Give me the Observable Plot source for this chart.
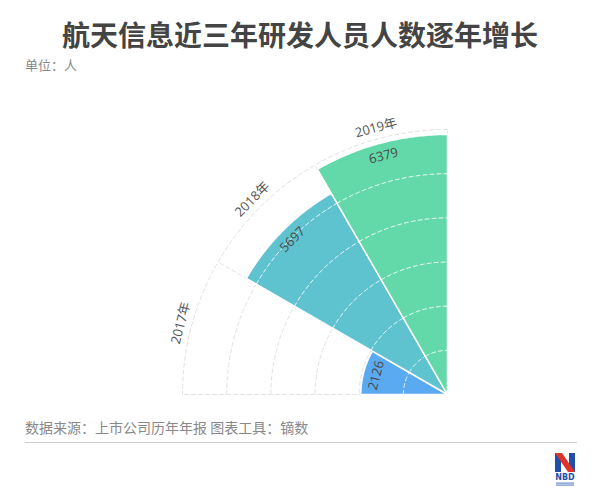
<!DOCTYPE html>
<html><head><meta charset="utf-8">
<script src="https://cdn.jsdelivr.net/npm/d3@7"></script>
<script src="https://cdn.jsdelivr.net/npm/@observablehq/plot@0.6"></script>
<style>
body{margin:0;background:#fff;width:600px;height:500px;position:relative;overflow:hidden;font-family:"Noto Sans CJK SC","Noto Sans",sans-serif;}
#title{position:absolute;left:0;width:600px;top:14px;text-align:center;font-size:28px;font-weight:bold;color:#444;line-height:40px;}
#unit{position:absolute;left:25px;top:55px;font-size:13px;color:#888;line-height:20px;}
#chart{position:absolute;left:0;top:80px;}
#source{position:absolute;left:25px;top:417px;font-size:14px;color:#888;line-height:20px;}
#rule{position:absolute;left:25px;top:442px;width:552px;height:1px;background:#d0d0d0;}
#logo{position:absolute;left:555px;top:453px;}
</style></head><body>
<div id="title">航天信息近三年研发人员人数逐年增长</div>
<div id="unit">单位：人</div>
<div id="chart"></div>
<div id="source">数据来源：上市公司历年年报 图表工具：镝数</div>
<div id="rule"></div>
<div id="logo"><svg width="22" height="36" viewBox="0 0 22 36">
<polygon points="0,0 6,0 6,19 0,19" fill="#1f4fa8"/>
<polygon points="14,0 20,0 20,19 14,19" fill="#1f4fa8"/>
<polygon points="0,0 7,0 20,19 13,19" fill="#e0342b"/>
<text x="10" y="27" text-anchor="middle" font-family="DejaVu Sans" font-weight="bold" font-size="8" fill="#1f4fa8">NBD</text>
<rect x="1" y="29.5" width="18" height="1.2" fill="#6a8cc8"/>
<rect x="1" y="31.5" width="18" height="1.2" fill="#6a8cc8"/>
</svg></div>
<script>
const years = ["2017年", "2018年", "2019年"];
const values = [2126, 5697, 6379];
const colors = ["#5aaaf2", "#5ec3cf", "#63d9aa"];
const rMax = 6500;
const ringCount = 6;

const outerPx = 265, cx = 447, cy = 314;
const unitPerPx = rMax / outerPx;
const rad = a => a * Math.PI / 180;
const pt = (r, a) => [r * Math.cos(rad(a)), r * Math.sin(rad(a))];
function arc(r, a1, a2, n = 60) {
  const out = [];
  for (let s = 0; s <= n; s++) out.push(pt(r, a1 + (a2 - a1) * s / n));
  return out;
}
const span = 90 / years.length;
const angles = years.map((y, i) => [180 - span * i, 180 - span * (i + 1)]);

// gray grid
const grid = [];
for (let j = 1; j <= ringCount; j++) arc(j * rMax / ringCount, 90, 180).forEach(p => grid.push({x: p[0], y: p[1], id: "r" + j}));
[180, 150, 120, 90].forEach(a => { grid.push({x: 0, y: 0, id: "a" + a}); const p = pt(rMax, a); grid.push({x: p[0], y: p[1], id: "a" + a}); });

// sectors
const sectors = [];
years.forEach((y, i) => {
  const [a1, a2] = angles[i];
  sectors.push({x: 0, y: 0, year: y});
  arc(values[i], a1, a2).forEach(p => sectors.push({x: p[0], y: p[1], year: y}));
  sectors.push({x: 0, y: 0, year: y});
});

// white rings inside sectors
const inner = [];
years.forEach((y, i) => {
  const [a1, a2] = angles[i];
  for (let j = 1; j <= ringCount; j++) {
    const r = j * rMax / ringCount;
    if (r < values[i] - 1.5 * unitPerPx) arc(r, a1, a2, 20).forEach(p => inner.push({x: p[0], y: p[1], id: y + j}));
  }
});

// labels
const catLabels = years.map((y, i) => {
  const am = (angles[i][0] + angles[i][1]) / 2;
  const p = pt(rMax + 11 * unitPerPx, am);
  return {x: p[0], y: p[1], text: y, rot: (180 - am) - 90};
});
const valLabels = years.map((y, i) => {
  const am = (angles[i][0] + angles[i][1]) / 2;
  const p = pt(values[i] - 13 * unitPerPx, am);
  return {x: p[0], y: p[1], text: String(values[i]), rot: (180 - am) - 90};
});

const plot = Plot.plot({
  width: 600, height: 330, margin: 0,
  style: {fontFamily: "'Open Sans','Noto Sans CJK SC',sans-serif", background: "transparent"},
  x: {domain: [-rMax, 0], range: [cx - outerPx, cx], axis: null},
  y: {domain: [0, rMax], range: [cy, cy - outerPx], axis: null},
  color: {domain: years, range: colors},
  marks: [
    Plot.line(grid, {x: "x", y: "y", z: "id", stroke: "#e2e2e2", strokeWidth: 1, strokeDasharray: "4,3"}),
    Plot.line(sectors, {x: "x", y: "y", z: "year", fill: "year", stroke: "#fff", strokeWidth: 1.5, strokeLinejoin: "round"}),
    Plot.line(inner, {x: "x", y: "y", z: "id", stroke: "#fff", strokeOpacity: 0.85, strokeWidth: 1, strokeDasharray: "4,3"}),
    Plot.text(catLabels, {x: "x", y: "y", text: "text", rotate: "rot", fontSize: 13, fill: "#555"}),
    Plot.text(valLabels, {x: "x", y: "y", text: "text", rotate: "rot", fontSize: 13, fill: "#4a4a4a"})
  ]
});
document.getElementById("chart").appendChild(plot);
</script>
</body></html>
